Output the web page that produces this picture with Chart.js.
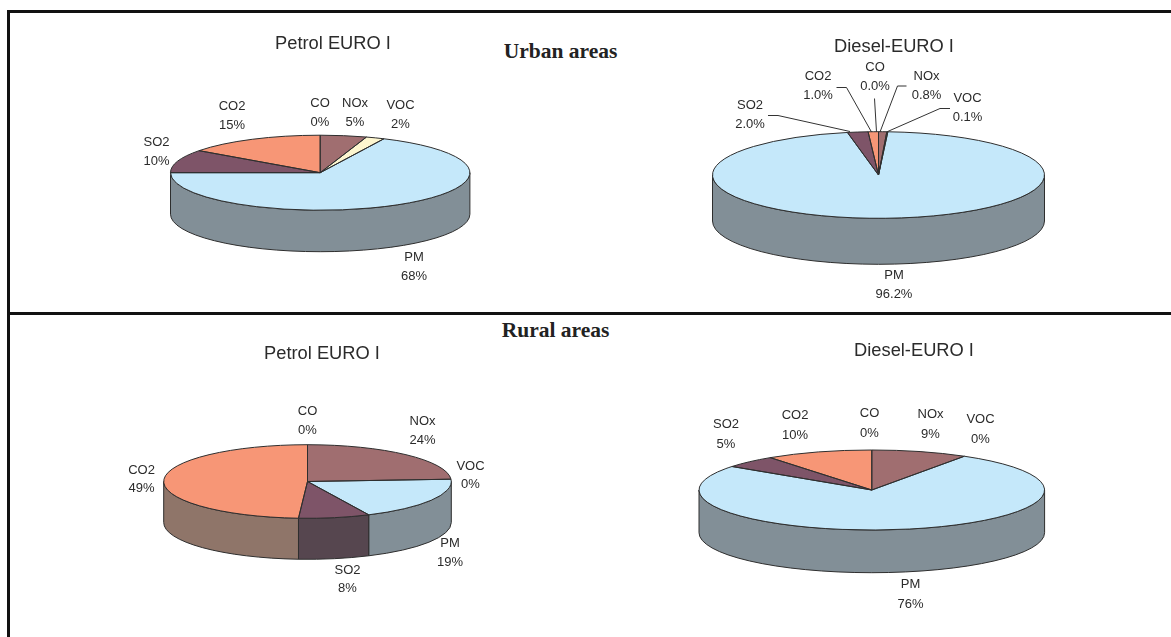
<!DOCTYPE html>
<html>
<head>
<meta charset="utf-8">
<script src="https://cdn.jsdelivr.net/npm/chart.js@4"></script>
<style>
  html, body { margin: 0; padding: 0; background: #fff; width: 1171px; height: 637px; overflow: hidden; }
  canvas { position: absolute; left: 0; top: 0; }
  .rule { position: absolute; background: #111; }
  .area { position: absolute; font: bold 21.5px "Liberation Serif", serif; color: #222; transform: translate(-50%, -50%); white-space: nowrap; }
</style>
</head>
<body>
<div class="rule" style="left:7px;top:10px;width:1164px;height:3px"></div>
<div class="rule" style="left:7px;top:10px;width:3px;height:627px"></div>
<div class="rule" style="left:7px;top:312px;width:1164px;height:3px"></div>
<div class="area" style="left:560.5px;top:51px">Urban areas</div>
<div class="area" style="left:555.5px;top:330px">Rural areas</div>

<canvas id="c1" width="1171" height="637"></canvas>
<canvas id="c2" width="1171" height="637"></canvas>
<canvas id="c3" width="1171" height="637"></canvas>
<canvas id="c4" width="1171" height="637"></canvas>

<script>
// Share of each pollutant, clockwise from twelve o'clock
const categories = ['CO', 'NOx', 'VOC', 'PM', 'SO2', 'CO2'];
const petrolUrban = [0, 5, 2, 68, 10, 15];
const dieselUrban = [0.0, 0.8, 0.1, 96.2, 2.0, 1.0];
const petrolRural = [0, 24, 0, 19, 8, 49];
const dieselRural = [0, 9, 0, 76, 5, 10];

// Top faces and the darker side walls
const faceColors = ['#a06e70', '#a06e70', '#fdf6cf', '#c5e8fa', '#7e5468', '#f79676'];
const wallColors = ['#6b4f50', '#6b4f50', '#a9a48a', '#828f97', '#56464f', '#8f7569'];

const TEXT = '#2b2b2b';
const EDGE = '#2e2e2e';

// Flattened-disc geometry and text placement of each pie
const pies = [
  { id: 'c1', title: 'Petrol EURO I', values: petrolUrban, digits: 0, lineGap: 19,
    cx: 320.2, cy: 172.7, rx: 149.7, ry: 37.5, depth: 41.5, titleAt: [333, 44],
    labels: { CO: [320, 103], NOx: [355, 103.5], VOC: [400.5, 105], PM: [414, 257.5], SO2: [156.5, 142.5], CO2: [232, 106] },
    leaders: [] },
  { id: 'c2', title: 'Diesel-EURO I', values: dieselUrban, digits: 1, lineGap: 19,
    cx: 878.5, cy: 175, rx: 166, ry: 43.3, depth: 46, titleAt: [894, 47],
    labels: { CO: [875, 67], NOx: [926.5, 76], VOC: [967.5, 98.5], PM: [894, 275.5], SO2: [750, 105.5], CO2: [818, 76.5] },
    leaders: [
      [[768, 115.5], [778, 115.5], [850, 131.5]],
      [[836.5, 87.5], [846.5, 87.5], [871.5, 132]],
      [[874.5, 98.5], [876.5, 132]],
      [[906.5, 86], [897.5, 86], [880, 132]],
      [[950, 108.5], [940, 108.5], [886.5, 132]]
    ] },
  { id: 'c3', title: 'Petrol EURO I', values: petrolRural, digits: 0, lineGap: 18.7,
    cx: 307.5, cy: 481.5, rx: 143.8, ry: 36.8, depth: 41, titleAt: [322, 354],
    labels: { CO: [307.5, 411.5], NOx: [422.5, 421.5], VOC: [470.5, 466], PM: [450, 543.5], SO2: [347.5, 570], CO2: [141.5, 470] },
    leaders: [] },
  { id: 'c4', title: 'Diesel-EURO I', values: dieselRural, digits: 0, lineGap: 20,
    cx: 871.8, cy: 490, rx: 172.8, ry: 40, depth: 42.7, titleAt: [914, 351],
    labels: { CO: [869.5, 413.5], NOx: [930.5, 414.5], VOC: [980.5, 419.5], PM: [910.5, 584.5], SO2: [726, 424], CO2: [795, 415] },
    leaders: [] }
];

// Chart.js lays each pie out as a circle; this plugin flattens it into a disc,
// adds the side wall, and draws outlines and labels on the true geometry.
const tiltedPie = {
  id: 'tiltedPie',
  beforeDatasetsDraw(chart, args, opts) {
    const { ctx } = chart;
    const p = opts.pie;
    chart.getDatasetMeta(0).data.forEach((arc, i) => {
      const a0 = Math.max(arc.startAngle, 0);
      const a1 = Math.min(arc.endAngle, Math.PI);
      if (a1 <= a0) return;
      ctx.beginPath();
      ctx.ellipse(p.cx, p.cy, p.rx, p.ry, 0, a0, a1);
      ctx.lineTo(p.cx + p.rx * Math.cos(a1), p.cy + p.ry * Math.sin(a1) + p.depth);
      ctx.ellipse(p.cx, p.cy + p.depth, p.rx, p.ry, 0, a1, a0, true);
      ctx.closePath();
      ctx.fillStyle = wallColors[i];
      ctx.fill();
      ctx.lineWidth = 1;
      ctx.strokeStyle = EDGE;
      ctx.stroke();
    });
  },
  beforeDatasetDraw(chart, args, opts) {
    const { ctx } = chart;
    const p = opts.pie;
    const arc = args.meta.data[0];
    ctx.save();
    ctx.translate(p.cx, p.cy);
    ctx.scale(1, p.ry / p.rx);
    ctx.translate(-arc.x, -arc.y);
  },
  afterDatasetDraw(chart) {
    chart.ctx.restore();
  },
  afterDatasetsDraw(chart, args, opts) {
    const { ctx } = chart;
    const p = opts.pie;
    ctx.lineWidth = 1;
    ctx.strokeStyle = EDGE;
    chart.getDatasetMeta(0).data.forEach((arc) => {
      if (arc.endAngle - arc.startAngle <= 0) return;
      ctx.beginPath();
      ctx.moveTo(p.cx, p.cy);
      ctx.ellipse(p.cx, p.cy, p.rx, p.ry, 0, arc.startAngle, arc.endAngle);
      ctx.closePath();
      ctx.stroke();
    });
  },
  afterDraw(chart, args, opts) {
    const { ctx } = chart;
    const p = opts.pie;
    ctx.fillStyle = TEXT;
    ctx.textAlign = 'center';
    ctx.textBaseline = 'middle';
    ctx.font = '18.3px "Liberation Sans", Arial, sans-serif';
    ctx.fillText(p.title, p.titleAt[0], p.titleAt[1]);
    ctx.font = '13px "Liberation Sans", Arial, sans-serif';
    categories.forEach((name, i) => {
      const [x, y] = p.labels[name];
      ctx.fillText(name, x, y);
      ctx.fillText(p.values[i].toFixed(p.digits) + '%', x, y + p.lineGap);
    });
    ctx.lineWidth = 1;
    ctx.strokeStyle = '#333';
    p.leaders.forEach((pts) => {
      ctx.beginPath();
      pts.forEach(([x, y], k) => (k ? ctx.lineTo(x, y) : ctx.moveTo(x, y)));
      ctx.stroke();
    });
  }
};

pies.forEach((p) => {
  new Chart(document.getElementById(p.id), {
    type: 'pie',
    data: {
      labels: categories,
      datasets: [{
        data: p.values,
        backgroundColor: faceColors,
        borderWidth: 0,
        radius: p.rx,
        clip: false
      }]
    },
    options: {
      responsive: false,
      animation: false,
      events: [],
      plugins: {
        legend: { display: false },
        tooltip: { enabled: false },
        tiltedPie: { pie: p }
      }
    },
    plugins: [tiltedPie]
  });
});
</script>
</body>
</html>
